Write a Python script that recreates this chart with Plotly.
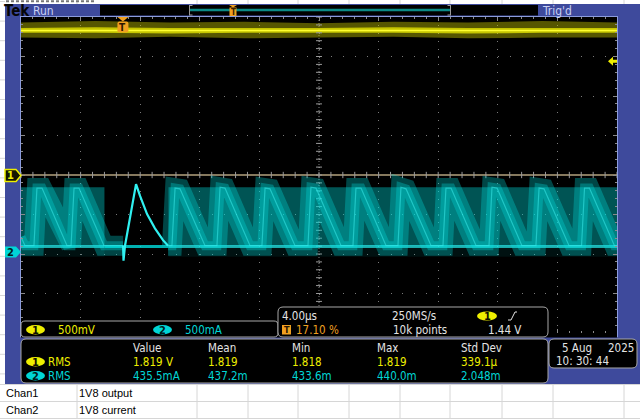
import plotly.graph_objects as go

W, H = 640, 419

# ---------------- data ----------------
time_div_us = 4.0          # 4.00 µs/div, 10 divisions
n_time_div = 10
trigger_pos_pct = 17.10    # trigger position
ch1_scale_v = 0.5          # 500 mV/div
ch2_scale_a = 0.5          # 500 mA/div
ch2_offset_div = -1.95     # channel-2 ground marker position (divisions from centre)
trigger_level_v = 1.44

# Channel 1 (1V8 output)
ch1_time_us   = [0, 5, 10, 15, 20, 25, 30, 35, 40]
ch1_mid_v     = [1.83, 1.83, 1.83, 1.83, 1.83, 1.83, 1.83, 1.83, 1.83]
ch1_upper_v   = [1.93, 1.95, 1.93, 1.94, 1.92, 1.94, 1.93, 1.95, 1.93]
ch1_lower_v   = [1.74, 1.73, 1.75, 1.73, 1.74, 1.75, 1.73, 1.74, 1.74]
ch1_core_hi_v = [1.86, 1.87, 1.86, 1.86, 1.86, 1.87, 1.86, 1.86, 1.86]
ch1_core_lo_v = [1.80, 1.80, 1.79, 1.80, 1.80, 1.80, 1.79, 1.80, 1.80]

# Channel 2 (1V8 current) - persistence sawtooth (typical path)
ch2_time_us = [0.00, 0.27, 0.87, 1.07, 1.41, 3.09,
               3.36, 3.56, 3.89, 5.57, 6.85, None,
               9.87, 10.13, 10.34, 10.67, 12.35,
               13.15, 13.36, 13.69, 15.37,
               16.17, 16.38, 16.71, 18.39,
               19.26, 19.46, 19.80, 21.48,
               22.28, 22.48, 22.82, 24.50,
               25.30, 25.50, 25.84, 27.52,
               28.32, 28.52, 28.86, 30.54,
               31.41, 31.61, 31.95, 33.62,
               34.56, 34.77, 35.10, 36.78,
               37.62, 37.82, 38.15, 39.83, 40.00]
ch2_current_a = [0.19, 0.08, 0.08, 0.81, 0.81, 0.08,
                 0.08, 0.81, 0.81, 0.08, 0.08, None,
                 0.08, 0.08, 0.81, 0.80, 0.08,
                 0.08, 0.82, 0.81, 0.08,
                 0.08, 0.81, 0.80, 0.08,
                 0.08, 0.82, 0.81, 0.08,
                 0.08, 0.81, 0.81, 0.08,
                 0.08, 0.82, 0.80, 0.08,
                 0.08, 0.81, 0.81, 0.08,
                 0.08, 0.82, 0.81, 0.08,
                 0.08, 0.81, 0.80, 0.08,
                 0.08, 0.81, 0.81, 0.08, 0.08]
# the single isolated pulse
ch2_spike_time_us   = [6.85, 6.88, 6.98, 7.72, 7.99, 8.46, 8.99, 9.53, 9.87]
ch2_spike_current_a = [0.08, -0.11, 0.08, 0.86, 0.71, 0.48, 0.30, 0.15, 0.08]
# persistence band extent
ch2_band_start_us = [0.0, 9.9]
ch2_band_end_us   = [5.6, 40.0]
ch2_band_hi_a = 0.82
ch2_band_lo_a = 0.07
ch2_noise_lo_a = -0.06

# read-outs
scale_labels = ["500mV", "500mA"]
meas_headers = ["Value", "Mean", "Min", "Max", "Std Dev"]
ch1_meas = ["1.819 V", "1.819", "1.818", "1.819", "339.1µ"]
ch2_meas = ["435.5mA", "437.2m", "433.6m", "440.0m", "2.048m"]
timebase_text = ["4.00µs", "17.10 %", "250MS/s", "10k points", "1.44 V"]
date_text = ["5 Aug", "2025", "10: 30: 44"]
sheet_rows = [["Chan1", "1V8 output"], ["Chan2", "1V8 current"]]

# ---------------- colours / fonts ----------------
BEZEL = "#3e4a9c"
YEL = "#eeee00"
CYA = "#00d6d6"
ORG = "#f0a020"
TXT = "#e4e4e4"
SF = "DejaVu Sans Condensed, DejaVu Sans, sans-serif"

def X(px):
    return px / W

def Y(py):
    return 1 - py / H

shapes, annotations = [], []

def rect(x0, y0, x1, y1, fill, layer="below", line=None, lw=0):
    shapes.append(dict(type="rect", xref="paper", yref="paper", x0=X(x0), x1=X(x1),
                       y0=Y(y1), y1=Y(y0), fillcolor=fill, layer=layer,
                       line=dict(color=line or fill, width=lw)))

def seg(x0, y0, x1, y1, color, w=1, layer="below", dash=None):
    ln = dict(color=color, width=w)
    if dash:
        ln["dash"] = dash
    shapes.append(dict(type="line", xref="paper", yref="paper", x0=X(x0), x1=X(x1),
                       y0=Y(y0), y1=Y(y1), line=ln, layer=layer))

def poly(pts, fill, line=None, lw=0, layer="above"):
    p = "M " + " L ".join(f"{X(a):.5f},{Y(b):.5f}" for a, b in pts) + " Z"
    shapes.append(dict(type="path", xref="paper", yref="paper", path=p, fillcolor=fill,
                       line=dict(color=line or fill, width=lw), layer=layer))

def rrect(x0, y0, x1, y1, r, fill="black", line="#a8a8a8", lw=1, layer="above"):
    def P(a, b):
        return f"{X(a):.5f},{Y(b):.5f}"
    p = (f"M {P(x0 + r, y0)} L {P(x1 - r, y0)} Q {P(x1, y0)} {P(x1, y0 + r)} "
         f"L {P(x1, y1 - r)} Q {P(x1, y1)} {P(x1 - r, y1)} L {P(x0 + r, y1)} "
         f"Q {P(x0, y1)} {P(x0, y1 - r)} L {P(x0, y0 + r)} Q {P(x0, y0)} {P(x0 + r, y0)} Z")
    shapes.append(dict(type="path", xref="paper", yref="paper", path=p, fillcolor=fill,
                       line=dict(color=line, width=lw), layer=layer))

def ellipse(x0, y0, x1, y1, fill):
    shapes.append(dict(type="circle", xref="paper", yref="paper", x0=X(x0), x1=X(x1),
                       y0=Y(y1), y1=Y(y0), fillcolor=fill, line=dict(color=fill, width=0),
                       layer="above"))

def text(x, y, s, color=TXT, size=12, anchor="left", family=SF, bold=False):
    if bold:
        s = f"<b>{s}</b>"
    annotations.append(dict(xref="paper", yref="paper", x=X(x), y=Y(y), text=s,
                            showarrow=False, xanchor=anchor, yanchor="middle",
                            font=dict(family=family, size=size, color=color),
                            borderpad=0, borderwidth=0))

# ---------------- spreadsheet background ----------------
GRIDC = "#d6d6d6"
for cx in [77, 197, 248, 298, 349, 400, 450, 502, 553, 624]:
    seg(cx, 384, cx, 419, GRIDC)
    seg(cx, 0, cx, 4, GRIDC)
for ry in [384.5, 401.5, 418.5]:
    seg(0, ry, 640, ry, GRIDC)
for k in range(20):
    ry = 1.5 + 19.6 * k
    seg(0, ry, 5, ry, GRIDC)
seg(6, 1.2, 95, 1.2, "#777777", 2, dash="3px,2px")

# bezel
rect(5, 4, 640, 384, BEZEL)
# black screen area
rect(20, 16, 618, 337.5, "black")
# header record-view panel
rect(100, 5, 538, 15.5, "black")
seg(190, 10, 450, 10, "#0b8a86", 2.5)
for bx, d in [(189.5, 3), (450.5, -3)]:
    seg(bx, 5, bx, 15.5, "#9a9a9a", 1)
    seg(bx, 5.5, bx + d, 5.5, "#9a9a9a", 1)
    seg(bx, 15, bx + d, 15, "#9a9a9a", 1)
text(4, 10.5, "Tek", "#050505", 15, family="Liberation Sans Narrow, DejaVu Sans Condensed, sans-serif", bold=True)
text(33, 10.5, "Run", "#c8d0f4", 12)
text(542, 10.5, "Trig'd", "#c8d0f4", 12)
# record-view trigger marker
poly([(229, 5), (237, 5), (233, 7.5)], ORG, layer="below")
rect(229.5, 7.5, 236.5, 16, ORG)
text(233, 12, "T", "#3a2000", 8, anchor="center", bold=True)

# ---------------- traces ----------------
fig = go.Figure()

# channel 1 noise band
fig.add_trace(go.Scatter(x=ch1_time_us, y=ch1_lower_v, mode="lines", line=dict(width=0),
                         hoverinfo="skip", showlegend=False))
fig.add_trace(go.Scatter(x=ch1_time_us, y=ch1_upper_v, mode="lines", line=dict(width=0),
                         fill="tonexty", fillcolor="rgba(190,190,0,0.45)",
                         hoverinfo="skip", showlegend=False))
fig.add_trace(go.Scatter(x=ch1_time_us, y=ch1_core_lo_v, mode="lines", line=dict(width=0),
                         hoverinfo="skip", showlegend=False))
fig.add_trace(go.Scatter(x=ch1_time_us, y=ch1_core_hi_v, mode="lines", line=dict(width=0),
                         fill="tonexty", fillcolor="rgba(235,235,0,0.75)",
                         hoverinfo="skip", showlegend=False))
fig.add_trace(go.Scatter(x=ch1_time_us, y=ch1_mid_v, mode="lines",
                         line=dict(color="#ffff30", width=1.5),
                         hoverinfo="skip", showlegend=False, name="Chan1"))

# channel 2 persistence band
for t0, t1 in zip(ch2_band_start_us, ch2_band_end_us):
    fig.add_trace(go.Scatter(x=[t0, t1, t1, t0], y=[ch2_band_lo_a, ch2_band_lo_a, ch2_band_hi_a, ch2_band_hi_a],
                             mode="lines", fill="toself", fillcolor="rgba(0,200,200,0.42)",
                             line=dict(width=0), yaxis="y2", hoverinfo="skip", showlegend=False))
    fig.add_trace(go.Scatter(x=[t0, t1, t1, t0], y=[ch2_noise_lo_a, ch2_noise_lo_a, ch2_band_lo_a, ch2_band_lo_a],
                             mode="lines", fill="toself", fillcolor="rgba(0,170,170,0.10)",
                             line=dict(width=0), yaxis="y2", hoverinfo="skip", showlegend=False))
    fig.add_trace(go.Scatter(x=[t0, t1], y=[ch2_band_lo_a, ch2_band_lo_a], mode="lines", yaxis="y2",
                             line=dict(color="rgba(40,235,235,0.7)", width=3),
                             hoverinfo="skip", showlegend=False))
fig.add_trace(go.Scatter(x=[ch2_band_end_us[0], ch2_band_start_us[1]],
                         y=[ch2_band_lo_a, ch2_band_lo_a], mode="lines", yaxis="y2",
                         line=dict(color="rgba(0,220,220,0.8)", width=3),
                         hoverinfo="skip", showlegend=False))
for w, op in [(20, 0.30), (9, 0.30)]:
    fig.add_trace(go.Scatter(x=ch2_time_us, y=ch2_current_a, mode="lines", yaxis="y2",
                             line=dict(color="#00e4e4", width=w), opacity=op,
                             hoverinfo="skip", showlegend=False))
fig.add_trace(go.Scatter(x=ch2_time_us, y=ch2_current_a, mode="lines", yaxis="y2",
                         line=dict(color="#40f0f0", width=1.2), opacity=0.5,
                         hoverinfo="skip", showlegend=False, name="Chan2"))
fig.add_trace(go.Scatter(x=ch2_spike_time_us, y=ch2_spike_current_a, mode="lines", yaxis="y2",
                         line=dict(color="#30f0f0", width=2.2),
                         hoverinfo="skip", showlegend=False))

# graticule centre-line ticks (decoration)
t_full = time_div_us * n_time_div
tx, ty = [], []
for k in range(n_time_div * 5 + 1):
    t = k * time_div_us / 5
    tx += [t, t, None]
    ty += [-0.04, 0.04, None]
for k in range(-20, 21):
    v = k * ch1_scale_v / 5
    tx += [t_full / 2 - 0.2, t_full / 2 + 0.2, None]
    ty += [v, v, None]
fig.add_trace(go.Scatter(x=tx, y=ty, mode="lines", line=dict(color="#9a9a9a", width=1),
                         hoverinfo="skip", showlegend=False))

# channel 1 ground line and centre vertical
shapes.append(dict(type="line", xref="x", yref="y", x0=0, x1=t_full, y0=0, y1=0,
                   line=dict(color="#b3a27e", width=1.5), layer="below"))
shapes.append(dict(type="line", xref="x", yref="y", x0=t_full / 2, x1=t_full / 2, y0=-2, y1=2,
                   line=dict(color="#808080", width=1, dash="1px,2px"), layer="below"))

# ---------------- overlays ----------------
# screen border
seg(20, 16.5, 618, 16.5, "#8b9bdc", 1, layer="above")
seg(20.5, 16.5, 20.5, 337.5, "#8b9bdc", 1, layer="above")
seg(617.5, 16.5, 617.5, 337.5, "#8b9bdc", 1, layer="above")

# trigger position marker
trig_px = 21 + 596 * trigger_pos_pct / 100
poly([(trig_px - 5.5, 17), (trig_px + 5.5, 17), (trig_px, 21.5)], ORG)
rrect(trig_px - 5.5, 21.5, trig_px + 5.5, 32.5, 2, fill=ORG, line=ORG, lw=0)
text(trig_px, 27, "T", "#2a1600", 10, anchor="center", bold=True)

# trigger level arrow
lvl_py = 175 - trigger_level_v / ch1_scale_v * 39.5
poly([(608, lvl_py), (613, lvl_py - 4.5), (613, lvl_py - 1.5), (617, lvl_py - 1.5),
      (617, lvl_py + 1.5), (613, lvl_py + 1.5), (613, lvl_py + 4.5)], YEL)

# channel markers
poly([(5, 169.5), (16, 169.5), (21, 175.5), (16, 181.5), (5, 181.5)], "#141400", line=YEL, lw=1.5)
text(10.5, 175.7, "1", YEL, 11, anchor="center", bold=True)
ch2_py = 175 - ch2_offset_div * 39.5
poly([(5, ch2_py - 5.5), (16, ch2_py - 5.5), (21, ch2_py), (16, ch2_py + 5.5), (5, ch2_py + 5.5)], CYA)
text(10.5, ch2_py + 0.3, "2", "#002020", 11, anchor="center", bold=True)

# read-out boxes
rrect(21, 321, 278, 337, 4)
rrect(278, 307, 548, 337, 5)
rrect(21, 339, 548, 383, 5)
rrect(549, 339, 637, 368, 5)

# scale box
ellipse(26, 325, 45, 334.5, YEL)
text(35.5, 330, "1", "#101000", 11, anchor="center", bold=True)
text(58, 330, scale_labels[0], YEL, 11.5)
ellipse(153, 325, 172, 334.5, CYA)
text(162.5, 330, "2", "#002020", 11, anchor="center", bold=True)
text(185, 330, scale_labels[1], CYA, 11.5)

# timebase box
text(282, 316, timebase_text[0], TXT, 11.5)
rect(282, 325, 291, 334.5, ORG, layer="above")
text(286.5, 330, "T", "#2a1600", 9, anchor="center", bold=True)
text(296, 330, timebase_text[1], ORG, 11.5)
text(392, 316, timebase_text[2], TXT, 11.5)
text(393, 330, timebase_text[3], TXT, 11.5)
ellipse(477, 311.5, 497, 320.5, YEL)
text(487, 316, "1", "#101000", 11, anchor="center", bold=True)
seg(508, 320, 511, 320, TXT, 1, layer="above")
seg(511, 320, 515, 312, TXT, 1, layer="above")
seg(515, 312, 517, 312, TXT, 1, layer="above")
text(488, 330, timebase_text[4], TXT, 11.5)

# measurement box
col_x = [133, 208, 292, 377, 461]
for cx, h in zip(col_x, meas_headers):
    text(cx, 347.5, h, TXT, 11.5)
ellipse(26, 357, 45, 366.5, YEL)
text(35.5, 362, "1", "#101000", 11, anchor="center", bold=True)
text(48, 362, "RMS", YEL, 11.5)
ellipse(26, 371, 45, 380.5, CYA)
text(35.5, 376, "2", "#002020", 11, anchor="center", bold=True)
text(48, 376, "RMS", CYA, 11.5)
for cx, v in zip(col_x, ch1_meas):
    text(cx, 362, v, YEL, 11.5)
for cx, v in zip(col_x, ch2_meas):
    text(cx, 376, v, CYA, 11.5)

# date box
text(562, 347.5, date_text[0], TXT, 11.5)
text(608, 347.5, date_text[1], TXT, 11.5)
text(556, 361, date_text[2], TXT, 11.5)

# spreadsheet rows
for (a, b), ry in zip(sheet_rows, [393, 410]):
    text(6, ry, a, "#000000", 11, family="Liberation Sans, Arial, sans-serif")
    text(79, ry, b, "#000000", 11, family="Liberation Sans, Arial, sans-serif")

# ---------------- layout ----------------
y_lo = (-4 - ch2_offset_div) * ch2_scale_a
y_hi = (4 - ch2_offset_div) * ch2_scale_a
fig.update_layout(
    width=W, height=H, margin=dict(l=0, r=0, t=0, b=0),
    paper_bgcolor="white", plot_bgcolor="black", showlegend=False,
    xaxis=dict(domain=[21 / W, 617 / W], range=[0, t_full], dtick=time_div_us, tick0=0,
               showgrid=True, gridcolor="#7a7a7a", gridwidth=1, griddash="1px,6.9px",
               zeroline=False, showticklabels=False, ticks="inside", ticklen=4,
               tickcolor="#8a8a8a", showline=True, linecolor="black", mirror="ticks",
               minor=dict(ticks="inside", ticklen=2, dtick=time_div_us / 5, tickcolor="#8a8a8a",
                          showgrid=False),
               fixedrange=True),
    yaxis=dict(domain=[1 - 333 / H, 1 - 17 / H], range=[-4 * ch1_scale_v, 4 * ch1_scale_v],
               dtick=ch1_scale_v, tick0=0, showgrid=True, gridcolor="#7a7a7a", gridwidth=1,
               griddash="1px,10.92px", zeroline=False, showticklabels=False, ticks="inside",
               ticklen=4, tickcolor="#8a8a8a", showline=True, linecolor="black", mirror="ticks",
               minor=dict(ticks="inside", ticklen=2, dtick=ch1_scale_v / 5, tickcolor="#8a8a8a",
                          showgrid=False),
               fixedrange=True),
    yaxis2=dict(overlaying="y", range=[y_lo, y_hi], visible=False, fixedrange=True),
    shapes=shapes, annotations=annotations,
)

fig.write_html("out.html", config={"displayModeBar": False},
               post_script="document.body.style.margin='0';document.body.style.overflow='hidden';")
